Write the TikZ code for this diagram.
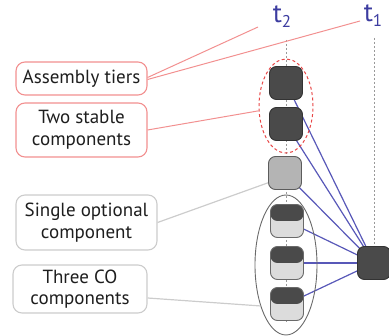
\documentclass[tikz,border=0pt]{standalone}
\usepackage{fontspec}
\setmainfont{PT Sans}
\usetikzlibrary{shapes.geometric,backgrounds}

\definecolor{tierblue}{HTML}{3C3CA0}
\definecolor{linkblue}{HTML}{5858B8}
\definecolor{darkface}{HTML}{4A4A4A}
\definecolor{darkedge}{HTML}{333333}
\definecolor{optface}{HTML}{B4B4B4}
\definecolor{lightface}{HTML}{DCDCDC}
\definecolor{calloutred}{HTML}{F29090}
\definecolor{calloutgray}{HTML}{CCCCCC}
\definecolor{ringred}{HTML}{E84848}
\definecolor{ringgray}{HTML}{6A6A6A}
\definecolor{textgray}{HTML}{1E1E1E}

\tikzset{
  comp/.style={rectangle, rounded corners=7pt, minimum width=33pt, minimum height=33pt,
    inner sep=0pt, line width=0.9pt},
  stable/.style={comp, fill=darkface, draw=darkedge},
  optional/.style={comp, fill=optface, draw=darkedge!80},
  conode/.style={comp, fill=lightface, draw=ringgray,
    path picture={\fill[darkface] (path picture bounding box.north west)
      rectangle (path picture bounding box.east);}},
  callout/.style={rectangle, rounded corners=9pt, line width=1.1pt, fill=white,
    align=center, text=textgray, inner sep=2pt,
    font=\fontsize{19}{21.5}\selectfont},
  redcallout/.style={callout, draw=calloutred},
  graycallout/.style={callout, draw=calloutgray},
  tierlabel/.style={text=tierblue, font=\fontsize{27}{27}\selectfont, inner sep=0pt},
  tierline/.style={draw=gray!80, line width=0.8pt, dash pattern=on 2pt off 2pt},
  link/.style={draw=linkblue, line width=1.2pt},
  redlead/.style={draw=calloutred, line width=1pt},
  graylead/.style={draw=calloutgray, line width=1.2pt},
}

\begin{document}
\begin{tikzpicture}[x=1pt,y=-1pt]
\useasboundingbox (0,0) rectangle (389,336);

% tier labels and their time axes
\node[tierlabel] (t2) at (282,17) {t\raisebox{-5pt}{\fontsize{17}{17}\selectfont 2}};
\node[tierlabel] (t1) at (373,16) {t\raisebox{-5pt}{\fontsize{17}{17}\selectfont 1}};
\coordinate (t2top) at (286,40);
\coordinate (t2bot) at (286,322);
\coordinate (t1top) at (374,38);

% components of tier t2
\node[stable]   (s1) at (286,83)  {};
\node[stable]   (s2) at (286,124) {};
\node[optional] (op) at (285,173) {};
\node[conode]   (c1) at (287,221) {};
\node[conode]   (c2) at (287,263) {};
\node[conode]   (c3) at (287,304) {};

% the single component of tier t1
\node[stable] (r) at (374,263) {};

% groupings
\node[ellipse, draw=ringred, line width=1pt, dash pattern=on 3pt off 2.5pt,
      minimum width=54pt, minimum height=94pt, inner sep=0pt] (se) at (286,106) {};
\node[ellipse, draw=ringgray, line width=0.9pt,
      minimum width=62pt, minimum height=140pt, inner sep=0pt] (ce) at (286,265) {};

% callouts
\node[redcallout, minimum width=131pt, minimum height=33pt] (asm) at (81.5,78.5) {Assembly tiers};
\node[redcallout, minimum width=131pt, minimum height=54pt] (two) at (81.5,130) {Two stable\\components};
\node[graycallout, minimum width=141pt, minimum height=55pt] (one) at (86.5,222.5) {Single optional\\component};
\node[graycallout, minimum width=134pt, minimum height=48pt] (three) at (80,289) {Three CO\\components};

% leader ends toward the tier labels
\coordinate (toT2) at (258,27);
\coordinate (toT1) at (360,21);

\begin{pgfonlayer}{background}
  \draw[tierline] (t2top) -- (t2bot);
  \draw[tierline] (t1top) -- (r.north);
  \foreach \n in {s1,s2,op,c1,c2,c3}
    \draw[link] (\n.center) -- (r.center);
\end{pgfonlayer}

% leaders from the callouts
\draw[redlead] ([yshift=1pt]asm.east) -- (toT2);
\draw[redlead] ([yshift=-1pt]asm.east) -- (toT1);
\draw[redlead] (two.east) -- (se.190);
\draw[graylead] (one.east) -- (op.210);
\draw[graylead] ([yshift=-9pt]three.east) -- (ce.238);
\end{tikzpicture}
\end{document}
